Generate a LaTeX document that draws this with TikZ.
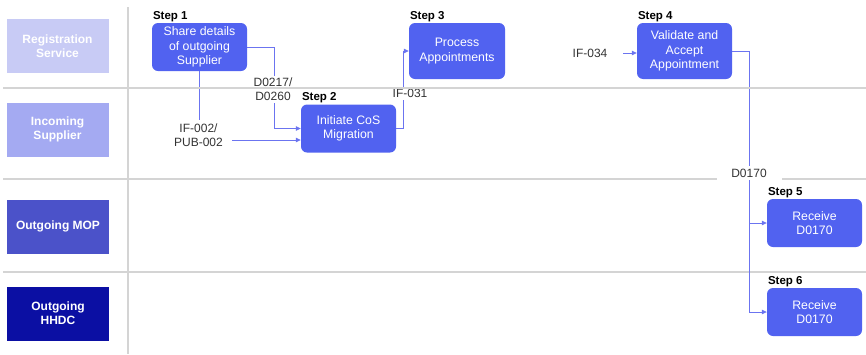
\documentclass[tikz,border=0pt]{standalone}
\usepackage{fontspec}
\setmainfont{Liberation Sans}
\usetikzlibrary{arrows.meta}

\definecolor{stepblue}{HTML}{5162F0}
\definecolor{linkblue}{HTML}{6B74F0}
\definecolor{lanegray}{HTML}{D4D4D4}
\definecolor{labelgray}{HTML}{333333}
\definecolor{regfill}{HTML}{C8CBF5}
\definecolor{incfill}{HTML}{A4AAF2}
\definecolor{mopfill}{HTML}{4B52C9}
\definecolor{hhdcfill}{HTML}{0B0FA3}

\begin{document}
\begin{tikzpicture}[x=1pt, y=-1pt,
    lanebox/.style={minimum width=102pt, minimum height=54pt, inner sep=2pt, align=center, text=white, font=\fontsize{12}{14.3}\selectfont\bfseries},
    stepbox/.style={fill=stepblue, rounded corners=6pt, minimum width=95pt, minimum height=48pt, inner sep=2pt, align=center, text=white, font=\fontsize{12.3}{14.3}\selectfont},
    steplabel/.style={anchor=south west, inner sep=1pt, font=\fontsize{11.5}{13}\selectfont\bfseries},
    flowlabel/.style={fill=white, text=labelgray, inner sep=2pt, align=center, font=\fontsize{12}{14.3}\selectfont},
    link/.style={draw=linkblue, line width=0.8pt, -{Triangle[length=5pt, width=4.5pt]}},
    laneline/.style={draw=lanegray, line width=1.2pt}]

                    \useasboundingbox (0,0) rectangle (866,354);

                    % swimlanes
                    \draw[laneline] (128,7) -- (128,354);
                    \draw[laneline] (3,179) -- (866,179);
                    \draw[laneline] (3,272) -- (866,272);

                    \node[lanebox, fill=regfill] (reg) at (57.5,46) {Registration\\Service};
                    \node[lanebox, fill=incfill] (inc) at (57.5,129.5) {Incoming\\Supplier};
                    \node[lanebox, fill=mopfill] (mop) at (58,226.5) {Outgoing MOP};
                    \node[lanebox, fill=hhdcfill] (hhdc) at (58,313.5) {Outgoing\\HHDC};

                    % steps
                    \node[stepbox] (s1) at (199.5,47) {Share details\\of outgoing\\Supplier};
                    \node[stepbox] (s2) at (348.5,128.5) {Initiate CoS\\Migration};
                    \node[stepbox, minimum width=96pt, minimum height=56pt] (s3) at (457,51) {Process\\Appointments};
                    \node[stepbox, minimum height=56pt] (s4) at (684.5,51) {Validate and\\Accept\\Appointment};
                    \node[stepbox] (s5) at (814.5,223) {Receive\\D0170};
                    \node[stepbox] (s6) at (814.5,312) {Receive\\D0170};

                    \node[steplabel] (t1) at (s1.north west) {Step 1};
                    \node[steplabel] (t2) at (s2.north west) {Step 2};
                    \node[steplabel] (t3) at (s3.north west) {Step 3};
                    \node[steplabel] (t4) at (s4.north west) {Step 4};
                    \node[steplabel] (t5) at (s5.north west) {Step 5};
                    \node[steplabel] (t6) at (s6.north west) {Step 6};

                    % flows
                    \node[flowlabel, fill=none, inner sep=4pt] (ifpub) at (198.5,135.5) {IF-002/\\PUB-002};
                    \node[flowlabel, fill=none] (if034) at (590,53) {IF-034};
                    \coordinate (s2in) at ([yshift=-11.5pt]s2.west);

                    \draw[link] (s1.east) -- ++(27,0) |- (s2.west);
                    \draw[link, -] (s1.south) -- (s1.south |- ifpub.north);
                    \draw[link, shorten <=5pt] (ifpub.east |- s2in) -- (s2in);
                    \draw[link] (s2.east) -- ++(7,0) |- (s3.west);
                    \draw[link, shorten <=13.5pt] (if034.east) -- (if034.east -| s4.west);
                    \draw[link] (s4.east) -- ++(17,0) |- (s5.west);
                    \draw[link] (s4.east) -- ++(17,0) |- (s6.west);

                    \node[flowlabel] (d0217) at (273,89.5) {D0217/\\D0260};
                    \node[flowlabel] (if031) at (410,93.8) {IF-031};
                    \node[flowlabel, inner ysep=3pt, minimum width=65pt] (d0170) at (749,173) {D0170};

                    \draw[laneline] (3,88) -- (866,88);
                \end{tikzpicture}
\end{document}
